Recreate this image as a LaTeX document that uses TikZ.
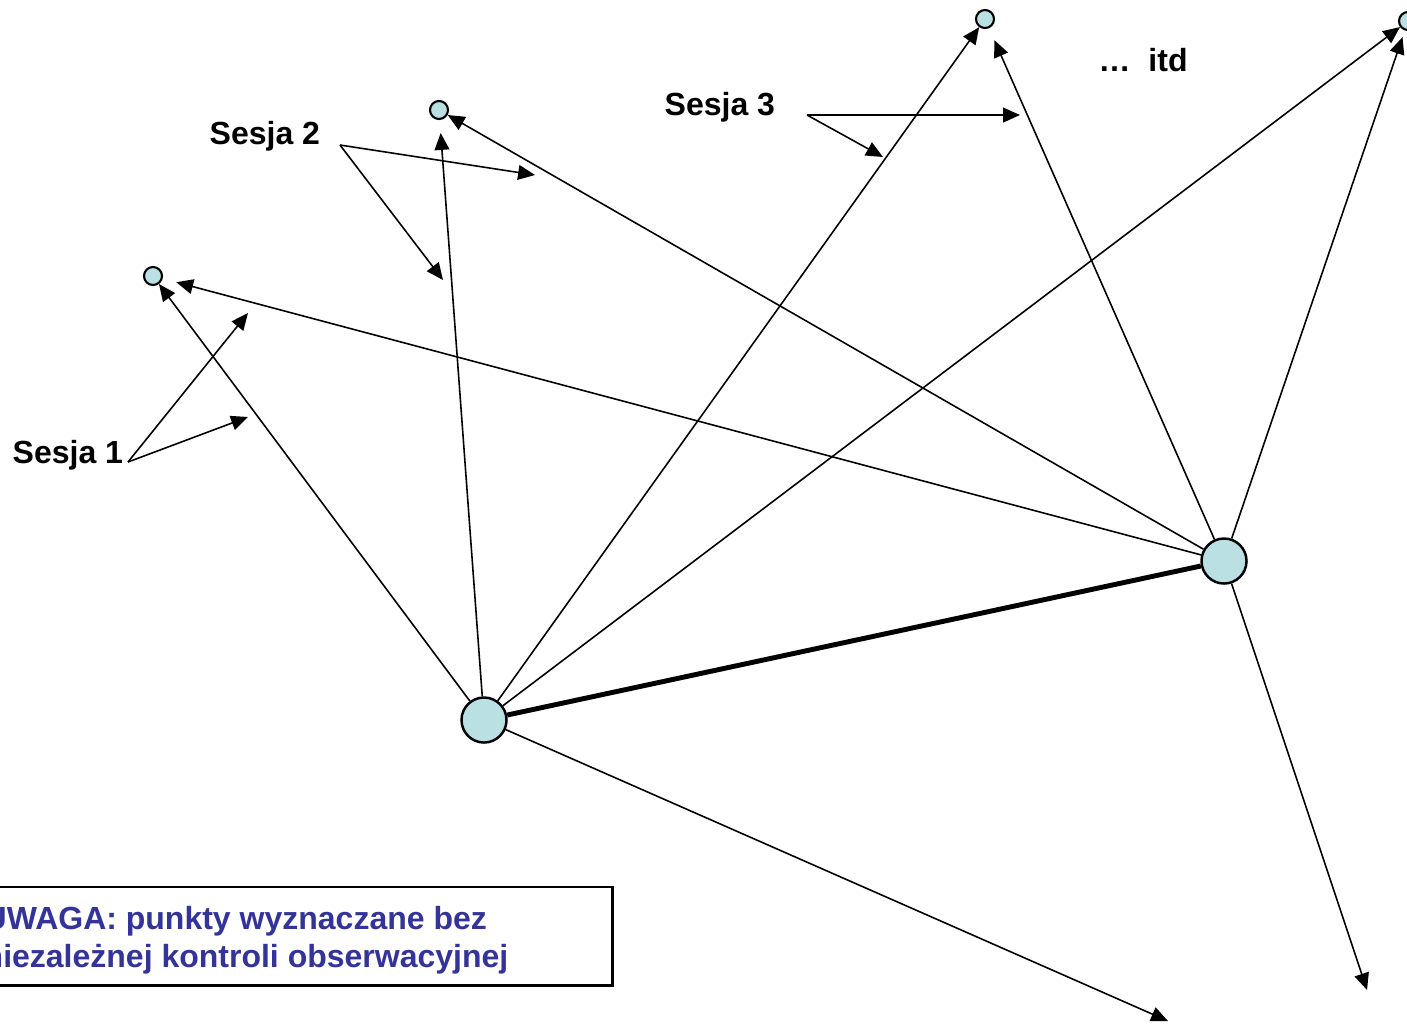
\documentclass[tikz,border=0pt]{standalone}
\usepackage{fontspec}
\setmainfont{Liberation Sans}
\usetikzlibrary{arrows.meta}
\definecolor{nodefill}{HTML}{BBE0E3}
\definecolor{notecol}{HTML}{333399}
\begin{document}
\begin{tikzpicture}[x=0.01cm,y=-0.01cm,
  big/.style={circle, draw, line width=0.7pt, fill=nodefill, minimum size=0.45cm, inner sep=0pt},
  small/.style={circle, draw, line width=0.6pt, fill=nodefill, minimum size=0.18cm, inner sep=0pt},
  conn/.style={line width=0.45pt, -{Triangle[length=4.8pt,width=4.2pt]}},
  lbl/.style={font=\bfseries\fontsize{9.1}{11}\selectfont, anchor=base west, inner sep=0pt},
  note/.style={font=\bfseries\fontsize{9.1}{11}\selectfont, text=notecol, anchor=base west, inner sep=0pt}]
\useasboundingbox (0,0) rectangle (1407,1023);

% main points
\node[big] (A) at (484,720) {};
\node[big] (B) at (1224,561) {};
% determined points
\node[small] (s1) at (153,276) {};
\node[small] (s2) at (439,110) {};
\node[small] (s3) at (985,19) {};
\node[small] (s4) at (1408,21) {};
\coordinate (e1) at (1168,1021);
\coordinate (e2) at (1367,990);

% observations
\draw[conn] (A) -- (s1);
\draw[conn, shorten >=0.14cm] (B) -- (s1);
\draw[conn, shorten >=0.13cm] (A) -- (s2);
\draw[conn] (B) -- (s2);
\draw[conn] (A) -- (s3);
\draw[conn, shorten >=0.13cm] (B) -- (s3);
\draw[conn] (A) -- (s4);
\draw[conn, shorten >=0.07cm] (B) -- (s4);
\draw[conn] (A) -- (e1);
\draw[conn] (B) -- (e2);
\draw[line width=1.4pt] (A) -- (B);

% session labels
\node[lbl] (l1) at (12,463) {Sesja 1};
\coordinate (l1o) at (128,462);
\coordinate (t1a) at (248,313);
\coordinate (t1b) at (248,417);
\draw[conn] (l1o) -- (t1a);
\draw[conn] (l1o) -- (t1b);

\node[lbl] (l2) at (209,144) {Sesja 2};
\coordinate (l2o) at (340,145);
\coordinate (t2a) at (535,175);
\coordinate (t2b) at (443,280);
\draw[conn] (l2o) -- (t2a);
\draw[conn] (l2o) -- (t2b);

\node[lbl] (l3) at (664,115) {Sesja 3};
\coordinate (l3o) at (807,115);
\coordinate (t3a) at (1020,115);
\coordinate (t3b) at (883,157);
\draw[conn] (l3o) -- (t3a);
\draw[conn] (l3o) -- (t3b);

\node[lbl] (itd) at (1098,71) {…\ \ itd};

% note box
\node[draw, line width=0.7pt, anchor=north west, minimum width=6.31cm, minimum height=0.98cm, inner sep=0pt] (box) at (-20,886) {};
\node[note] (n1) at (-17,929) {UWAGA: punkty wyznaczane bez};
\node[note] (n2) at (-17,967) {niezależnej kontroli obserwacyjnej};
\end{tikzpicture}
\end{document}
